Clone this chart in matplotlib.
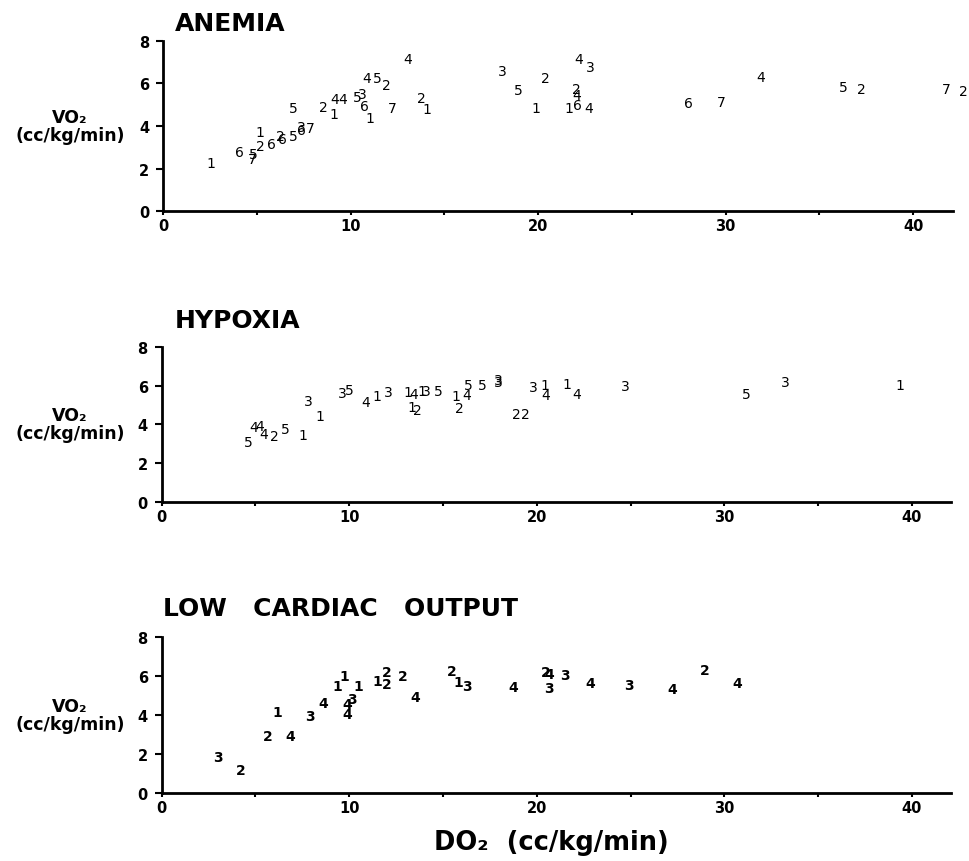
import matplotlib
matplotlib.use("Agg")
import matplotlib.pyplot as plt
from matplotlib.ticker import MultipleLocator, FixedLocator

plt.rcParams['font.family'] = ['DejaVu Sans']

# ---------------- data ----------------
anemia_x = [2.54, 4.09, 4.80, 4.75, 5.21, 5.16, 5.78, 6.37, 6.28, 6.97, 6.97, 7.40, 7.40, 7.86,
            8.53, 9.12, 9.16, 9.60, 10.37, 10.61, 10.76, 11.02, 10.85, 11.43, 11.91, 12.20,
            13.07, 13.78, 14.08, 18.10, 18.97, 20.41, 19.91, 21.64, 22.08, 22.72, 22.05, 22.05,
            22.17, 22.79, 28.0, 29.78, 31.88, 36.30, 37.25, 41.78, 42.7]
anemia_y = [2.27, 2.80, 2.69, 2.46, 3.08, 3.71, 3.16, 3.39, 3.55, 3.52, 4.83, 3.94, 3.79, 3.90,
            4.88, 4.57, 5.27, 5.27, 5.35, 5.51, 4.93, 4.37, 6.24, 6.24, 5.90, 4.83,
            7.12, 5.30, 4.80, 6.60, 5.71, 6.24, 4.83, 4.83, 4.99, 4.83, 5.74, 5.46,
            7.15, 6.79, 5.08, 5.12, 6.29, 5.82, 5.74, 5.74, 5.62]
anemia_id = [1, 6, 5, 7, 2, 1, 6, 6, 2, 5, 5, 3, 6, 7,
             2, 1, 4, 4, 5, 3, 6, 1, 4, 5, 2, 7,
             4, 2, 1, 3, 5, 2, 1, 1, 6, 4, 2, 4,
             4, 3, 6, 7, 4, 5, 2, 7, 2]

hypoxia_x = [4.62, 4.89, 5.24, 5.42, 5.99, 6.61, 7.55, 7.82, 8.44, 9.65, 10.01, 10.90, 11.47,
             12.09, 13.15, 13.42, 13.87, 14.13, 14.75, 13.33, 13.63, 15.70, 16.27, 16.35,
             15.87, 17.10, 17.95, 17.95, 19.79, 20.44, 20.50, 18.93, 19.38, 21.60, 22.13,
             24.71, 31.2, 33.24, 39.38]
hypoxia_y = [3.10, 3.84, 3.90, 3.50, 3.41, 3.76, 3.45, 5.22, 4.45, 5.60, 5.79, 5.17, 5.48,
             5.69, 5.69, 5.57, 5.74, 5.74, 5.74, 4.88, 4.74, 5.48, 5.51, 6.03,
             4.83, 6.03, 6.17, 6.30, 5.91, 6.03, 5.51, 4.53, 4.53, 6.08, 5.57,
             5.96, 5.57, 6.17, 6.03]
hypoxia_id = [5, 4, 4, 4, 2, 5, 1, 3, 1, 3, 5, 4, 1,
              3, 1, 4, 1, 3, 5, 1, 2, 1, 4, 5,
              2, 5, 3, 3, 3, 1, 4, 2, 2, 1, 4,
              3, 5, 3, 1]

lowco_x = [3.02, 4.21, 5.63, 6.84, 6.19, 7.91, 8.62, 9.87, 9.87, 10.13, 9.39, 9.72, 10.49,
           11.52, 12.0, 12.0, 12.85, 13.51, 15.47, 15.82, 16.27, 18.72, 20.50, 20.67, 20.67,
           21.51, 22.84, 24.89, 27.2, 28.98, 30.67]
lowco_y = [1.83, 1.20, 2.91, 2.91, 4.14, 3.93, 4.62, 4.05, 4.56, 4.82, 5.50, 5.98, 5.50,
           5.76, 6.22, 5.59, 6.02, 4.91, 6.27, 5.71, 5.50, 5.42, 6.22, 6.10, 5.37,
           6.05, 5.64, 5.54, 5.33, 6.32, 5.64]
lowco_id = [3, 2, 2, 4, 1, 3, 4, 4, 4, 3, 1, 1, 1,
            1, 2, 2, 2, 4, 2, 1, 3, 4, 2, 4, 3,
            3, 4, 3, 4, 2, 4]

titles = ["ANEMIA", "HYPOXIA", "LOW   CARDIAC   OUTPUT"]
x_ticks = [0, 10, 20, 30, 40]
y_ticks = [0, 2, 4, 6, 8]
y_label = "VO₂\n(cc/kg/min)"
x_label = "DO₂  (cc/kg/min)"

# ---------------- figure ----------------
W, H = 969, 862
fig = plt.figure(figsize=(W / 100, H / 100), dpi=100)

def px_axes(left, top, right, bottom):
    return fig.add_axes([left / W, 1 - bottom / H, (right - left) / W, (bottom - top) / H])

axes_px = [(163, 41.7, 952.5, 212.3),
           (161.7, 347.9, 951.2, 502.7),
           (161.7, 638.0, 951.2, 794.0)]
title_px = [(175, 24), (175, 321), (163, 609)]
panels = [(anemia_x, anemia_y, anemia_id, 'normal'),
          (hypoxia_x, hypoxia_y, hypoxia_id, 'normal'),
          (lowco_x, lowco_y, lowco_id, 'bold')]

for (l, t, r, b), (tx, ty), title, (xs, ys, ids, wt) in zip(axes_px, title_px, titles, panels):
    ax = px_axes(l, t, r, b)
    ax.set_xlim(0, 42.1)
    ax.set_ylim(0, 8)
    for s in ['top', 'right']:
        ax.spines[s].set_visible(False)
    for s in ['left', 'bottom']:
        ax.spines[s].set_linewidth(2.0)
        ax.spines[s].set_color('black')
    ax.xaxis.set_major_locator(FixedLocator(x_ticks))
    ax.xaxis.set_minor_locator(MultipleLocator(5))
    ax.yaxis.set_major_locator(FixedLocator(y_ticks))
    ax.set_xticklabels([str(v) for v in x_ticks], fontsize=10.5, fontweight='bold')
    ax.set_yticklabels([str(v) for v in y_ticks], fontsize=10.5, fontweight='bold')
    ax.tick_params(axis='x', which='both', direction='out', length=3, width=1.5, pad=2)
    ax.tick_params(axis='y', which='both', direction='out', length=5, width=1.5, pad=5)
    ax.set_ylabel(y_label, rotation=0, fontsize=12.5, fontweight='bold',
                  ha='center', va='center', linespacing=1.0)
    ax.yaxis.set_label_coords((70 - l) / (r - l), 0.5)
    for x, y, d in zip(xs, ys, ids):
        ax.text(x, y, str(d), ha='center', va='center', fontsize=10,
                fontweight=wt, clip_on=False)
    fig.text(tx / W, 1 - ty / H, title, ha='left', va='center', fontsize=18,
             fontweight='bold')

fig.text(551 / W, 1 - 843 / H, x_label, ha='center', va='center', fontsize=18.5,
         fontweight='bold')

fig.savefig("out.png", dpi=100)
